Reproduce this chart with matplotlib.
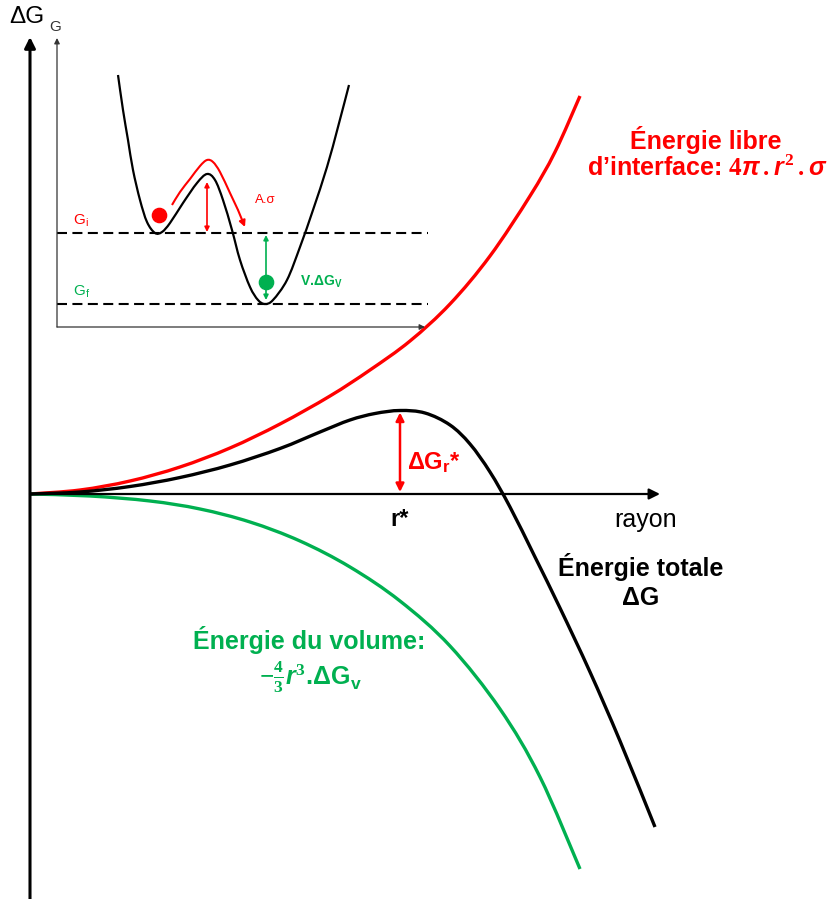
import matplotlib
matplotlib.use("Agg")
import matplotlib.pyplot as plt
from matplotlib.path import Path
from matplotlib.patches import PathPatch

plt.rcParams['font.family'] = ['Liberation Sans', 'DejaVu Sans']
plt.rcParams['mathtext.fontset'] = 'custom'
plt.rcParams['mathtext.rm'] = 'Liberation Serif:bold'
plt.rcParams['mathtext.it'] = 'Liberation Sans:italic:bold'
plt.rcParams['mathtext.bf'] = 'Liberation Sans:bold'

RED = '#ff0000'
GREEN = '#00b050'
BLACK = '#000000'

# --- main diagram: free energy versus nucleus radius (arbitrary units) ---
red_r = [0, 50, 100, 150, 200, 250, 300, 340, 380, 420, 460, 500, 525, 550]
red_g = [0, 4, 13, 27, 46, 70, 98, 124, 153, 190, 238, 298, 342, 398]

black_r = [0, 50, 100, 150, 200, 250, 290, 320, 345, 370, 395, 420, 440, 460,
           480, 505, 530, 560, 590, 625]
black_g = [0, 2, 7.5, 16.5, 29, 45.5, 62, 74, 80.5, 83.5, 81, 69, 50, 22,
           -13, -63, -114, -178, -247, -333]

green_r = [0, 60, 120, 170, 220, 270, 320, 370, 420, 470, 510, 550]
green_g = [0, -2, -7, -15, -28, -47, -73, -107, -152, -215, -283, -375]

r_star = 370
g_star = 83.5

# --- inset: double-well energy landscape ---
well_x = [61, 66, 71, 76, 83, 90, 98, 105, 113, 126, 140, 150, 158, 166, 175,
          183, 193, 201, 208, 216, 230, 243, 256, 270, 281, 292]
well_y = [252, 217, 187, 157, 127, 105, 94, 95, 104, 124, 144, 153, 147, 127, 97,
          67, 40, 27, 23, 27, 47, 80, 117, 160, 200, 242]
G_i = 94
G_f = 23
path_x = [115, 123, 133, 143, 150, 156, 163, 173, 181, 188]
path_y = [122, 135, 148, 161, 167, 165, 155, 134, 117, 100]
barrier_x = 150
barrier_top = 147
ball_i = (102, 112)
ball_f = (209, 45)


def smooth_curve(axes, xs, ys, **kw):
    """Draw a smooth Bezier curve passing through every (x, y) point."""
    pts = list(zip(xs, ys))
    n = len(pts)
    verts = [pts[0]]
    codes = [Path.MOVETO]
    for i in range(n - 1):
        p0 = pts[i - 1] if i > 0 else pts[i]
        p1 = pts[i]
        p2 = pts[i + 1]
        p3 = pts[i + 2] if i + 2 < n else pts[i + 1]
        c1 = (p1[0] + (p2[0] - p0[0]) / 6, p1[1] + (p2[1] - p0[1]) / 6)
        c2 = (p2[0] - (p3[0] - p1[0]) / 6, p2[1] - (p3[1] - p1[1]) / 6)
        verts += [c1, c2, p2]
        codes += [Path.CURVE4] * 3
    patch = PathPatch(Path(verts, codes), fill=False, capstyle='butt',
                      joinstyle='round', **kw)
    axes.add_patch(patch)
    return patch


fig = plt.figure(figsize=(8.28, 8.99), dpi=100)
ax = fig.add_axes([0, 0, 1, 1])
ax.set_xlim(-30, 798)
ax.set_ylim(-405, 494)
ax.axis('off')

# axes with arrows
ax.annotate('', xy=(0, 457), xytext=(0, -410),
            arrowprops=dict(arrowstyle='-|>', lw=2.2, color=BLACK,
                            mutation_scale=16, shrinkA=0, shrinkB=0))
ax.annotate('', xy=(630, 0), xytext=(0, 0),
            arrowprops=dict(arrowstyle='-|>', lw=1.6, color=BLACK,
                            mutation_scale=16, shrinkA=0, shrinkB=0))

smooth_curve(ax, red_r, red_g, edgecolor=RED, lw=2.4)
smooth_curve(ax, green_r, green_g, edgecolor=GREEN, lw=2.4)
smooth_curve(ax, black_r, black_g, edgecolor=BLACK, lw=2.4)

ax.annotate('', xy=(r_star, g_star - 2), xytext=(r_star, 2),
            arrowprops=dict(arrowstyle='<|-|>', lw=1.8, color=RED,
                            mutation_scale=12, shrinkA=0, shrinkB=0))

ax.text(377, 31, r'ΔG$_\mathregular{r}$*', color=RED, fontsize=17,
        fontweight='bold', ha='left', va='center')
ax.text(r_star, -26, 'r*', color=BLACK, fontsize=17, fontweight='bold',
        ha='center', va='center')
ax.text(616, -26, 'rayon', color=BLACK, fontsize=18, ha='center', va='center')
ax.text(611, -73, 'Énergie totale', color=BLACK, fontsize=18,
        fontweight='bold', ha='center', va='center')
ax.text(611, -104, 'ΔG', color=BLACK, fontsize=18, fontweight='bold',
        ha='center', va='center')
ax.text(676, 354, 'Énergie libre', color=RED, fontsize=18,
        fontweight='bold', ha='center', va='center')
ax.text(677, 326, r'd’interface: $4\pi\,.r^2\,.\sigma$', color=RED,
        fontsize=18, fontweight='bold', ha='center', va='center')
ax.text(279, -146, 'Énergie du volume:', color=GREEN, fontsize=18,
        fontweight='bold', ha='center', va='center')
ax.text(280, -183, r'$-\frac{4}{3}r^3$.ΔG$_\mathregular{v}$', color=GREEN,
        fontsize=18, fontweight='bold', ha='center', va='center')
ax.text(-3, 477, 'ΔG', color=BLACK, fontsize=17.5, ha='center', va='center')

# inset
ins = fig.add_axes([57 / 828, (899 - 327) / 899, 371 / 828, 289 / 899])
ins.set_xlim(0, 371)
ins.set_ylim(0, 289)
ins.axis('off')

ins.annotate('', xy=(0, 289), xytext=(0, 0),
             arrowprops=dict(arrowstyle='-|>', lw=0.9, color='#333333',
                             mutation_scale=8, shrinkA=0, shrinkB=0),
             annotation_clip=False)
ins.annotate('', xy=(368, 0), xytext=(0, 0),
             arrowprops=dict(arrowstyle='-|>', lw=0.9, color='#333333',
                             mutation_scale=8, shrinkA=0, shrinkB=0),
             annotation_clip=False)
for level in (G_i, G_f):
    ins.plot([0, 371], [level, level], color=BLACK, lw=1.5,
             linestyle=(0, (4.8, 2.6)), clip_on=False)

p = smooth_curve(ins, well_x, well_y, edgecolor=BLACK, lw=1.6)
p.set_clip_on(False)

p = smooth_curve(ins, path_x[:-1], path_y[:-1], edgecolor=RED, lw=1.5)
p.set_clip_on(False)
ins.annotate('', xy=(path_x[-1], path_y[-1]), xytext=(path_x[-2], path_y[-2]),
             arrowprops=dict(arrowstyle='-|>', lw=1.5, color=RED,
                             mutation_scale=9, shrinkA=0, shrinkB=0),
             annotation_clip=False)

ins.annotate('', xy=(barrier_x, barrier_top - 2), xytext=(barrier_x, G_i + 1),
             arrowprops=dict(arrowstyle='<|-|>', lw=1.2, color=RED,
                             mutation_scale=7, shrinkA=0, shrinkB=0),
             annotation_clip=False)
ins.annotate('', xy=(ball_f[0], G_i - 2), xytext=(ball_f[0], G_f + 4),
             arrowprops=dict(arrowstyle='<|-|>', lw=1.2, color=GREEN,
                             mutation_scale=7, shrinkA=0, shrinkB=0),
             annotation_clip=False)

ins.scatter([ball_i[0]], [ball_i[1]], s=105, color=RED, zorder=5, clip_on=False)
ins.scatter([ball_f[0]], [ball_f[1]], s=105, color=GREEN, zorder=5, clip_on=False)

ins.text(208, 127, 'A.σ', color=RED, fontsize=9.5, ha='center', va='center')
ins.text(243, 45, r'V.ΔG$_\mathregular{V}$', color=GREEN, fontsize=10,
         fontweight='bold', ha='left', va='center')
ins.text(16, 106, r'G$_\mathregular{i}$', color=RED, fontsize=11,
         ha='left', va='center')
ins.text(16, 35, r'G$_\mathregular{f}$', color=GREEN, fontsize=11,
         ha='left', va='center')
ins.text(-2, 300, 'G', color='#333333', fontsize=11, ha='center',
         va='center', clip_on=False)

fig.savefig('out.png', dpi=100)
